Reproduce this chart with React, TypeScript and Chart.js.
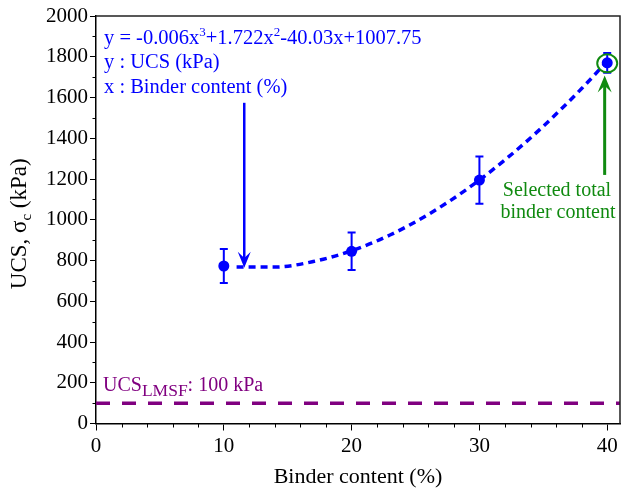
import React, { useEffect, useRef } from "react";
import { Chart, registerables } from "chart.js";

Chart.register(...registerables);

// ---- data ----
const binderContent = [10, 20, 30, 40];
const ucsMean = [773, 845, 1195, 1770];
const ucsErr = [84, 92, 116, 48];

const fitX = [11, 14, 17, 20, 23, 26, 29, 32, 35, 38, 40];
const fitY = [768, 768, 795, 848, 925, 1026, 1149, 1294, 1459, 1644, 1778];

const lmsfX = [0, 41];
const lmsfY = [100, 100];

const xTicks = [0, 10, 20, 30, 40];
const yTicks = [0, 200, 400, 600, 800, 1000, 1200, 1400, 1600, 1800, 2000];

const FONT = '"Liberation Serif", "Times New Roman", Times, serif';
const BLUE = "#0000ff";
const PURPLE = "#800080";
const GREEN = "#108a10";

function drawSegments(ctx: CanvasRenderingContext2D, x: number, y: number, segs: { t: string; size: number; dy: number }[]) {
  let cx = x;
  for (const s of segs) {
    ctx.font = `${s.size}px ${FONT}`;
    ctx.fillText(s.t, cx, y + s.dy);
    cx += ctx.measureText(s.t).width;
  }
  return cx - x;
}

function arrowHead(ctx: CanvasRenderingContext2D, tipX: number, tipY: number, dir: number, w: number, l: number) {
  ctx.beginPath();
  ctx.moveTo(tipX, tipY);
  ctx.lineTo(tipX - w / 2, tipY - dir * l);
  ctx.lineTo(tipX, tipY - dir * l * 0.6);
  ctx.lineTo(tipX + w / 2, tipY - dir * l);
  ctx.closePath();
  ctx.fill();
}

const zeroPad = () => ({ left: 0, top: 0, right: 0, bottom: 0 });

const overlay = {
  id: "overlay",
  afterDraw(chart: any) {
    const ctx: CanvasRenderingContext2D = chart.ctx;
    const xs = chart.scales.x;
    const ys = chart.scales.y;
    const ca = chart.chartArea;
    ctx.save();

    // frame top/right
    ctx.strokeStyle = "#222";
    ctx.lineWidth = 1.5;
    ctx.beginPath();
    ctx.moveTo(ca.left, ca.top);
    ctx.lineTo(ca.right, ca.top);
    ctx.lineTo(ca.right, ca.bottom);
    ctx.stroke();

    // minor ticks
    ctx.strokeStyle = "#000";
    ctx.lineWidth = 1;
    for (let v = 0; v <= 41; v += 2) {
      if (v % 10 === 0) continue;
      const px = Math.round(xs.getPixelForValue(v)) + 0.5;
      ctx.beginPath();
      ctx.moveTo(px, ca.bottom);
      ctx.lineTo(px, ca.bottom + 4);
      ctx.stroke();
    }
    for (let v = 100; v < 2000; v += 200) {
      const py = Math.round(ys.getPixelForValue(v)) + 0.5;
      ctx.beginPath();
      ctx.moveTo(ca.left, py);
      ctx.lineTo(ca.left - 3.5, py);
      ctx.stroke();
    }

    // error bars
    ctx.strokeStyle = BLUE;
    ctx.lineWidth = 2;
    for (let i = 0; i < binderContent.length; i++) {
      const px = xs.getPixelForValue(binderContent[i]);
      const pt = ys.getPixelForValue(ucsMean[i] + ucsErr[i]);
      const pb = ys.getPixelForValue(ucsMean[i] - ucsErr[i]);
      ctx.beginPath();
      ctx.moveTo(px, pt);
      ctx.lineTo(px, pb);
      ctx.moveTo(px - 4, pt);
      ctx.lineTo(px + 4, pt);
      ctx.moveTo(px - 4, pb);
      ctx.lineTo(px + 4, pb);
      ctx.stroke();
    }

    // blue arrow
    const bx = xs.getPixelForValue(11.6);
    const bTop = ys.getPixelForValue(1574);
    const bTip = ys.getPixelForValue(765);
    ctx.strokeStyle = BLUE;
    ctx.fillStyle = BLUE;
    ctx.lineWidth = 2.5;
    ctx.beginPath();
    ctx.moveTo(bx, bTop);
    ctx.lineTo(bx, bTip - 8);
    ctx.stroke();
    arrowHead(ctx, bx, bTip, 1, 13, 16);

    // green arrow
    const gx = xs.getPixelForValue(39.8);
    const gBot = ys.getPixelForValue(1220);
    const gTip = ys.getPixelForValue(1708);
    ctx.strokeStyle = GREEN;
    ctx.fillStyle = GREEN;
    ctx.lineWidth = 3;
    ctx.beginPath();
    ctx.moveTo(gx, gBot);
    ctx.lineTo(gx, gTip + 8);
    ctx.stroke();
    arrowHead(ctx, gx, gTip, -1, 14, 17);

    // green ellipse
    ctx.lineWidth = 2;
    ctx.beginPath();
    ctx.ellipse(xs.getPixelForValue(40), ys.getPixelForValue(1768), 10, 9, 0, 0, Math.PI * 2);
    ctx.stroke();

    // green text
    ctx.textAlign = "center";
    ctx.textBaseline = "alphabetic";
    ctx.font = `20px ${FONT}`;
    ctx.fillText("Selected total", 557, 196);
    ctx.fillText("binder content", 558, 218);

    // blue equation
    ctx.textAlign = "left";
    ctx.fillStyle = BLUE;
    drawSegments(ctx, 104, 44, [
      { t: "y = -0.006x", size: 20.5, dy: 0 },
      { t: "3", size: 13, dy: -8 },
      { t: "+1.722x", size: 20.5, dy: 0 },
      { t: "2", size: 13, dy: -8 },
      { t: "-40.03x+1007.75", size: 20.5, dy: 0 },
    ]);
    ctx.font = `20.5px ${FONT}`;
    ctx.fillText("y : UCS (kPa)", 104, 68);
    ctx.fillText("x : Binder content (%)", 104, 93);

    // purple label
    ctx.fillStyle = PURPLE;
    drawSegments(ctx, 103, 391, [
      { t: "UCS", size: 20, dy: 0 },
      { t: "LMSF", size: 17.5, dy: 5 },
      { t: ": 100 kPa", size: 20, dy: 0 },
    ]);

    // axis titles
    ctx.fillStyle = "#000";
    ctx.textAlign = "center";
    ctx.font = `22px ${FONT}`;
    ctx.fillText("Binder content (%)", (ca.left + ca.right) / 2, 483);

    ctx.save();
    ctx.translate(26, (ca.top + ca.bottom) / 2 + 4);
    ctx.rotate(-Math.PI / 2);
    ctx.textAlign = "left";
    const segs = [
      { t: "UCS, σ", size: 23, dy: 0 },
      { t: "c", size: 15, dy: 5 },
      { t: " (kPa)", size: 23, dy: 0 },
    ];
    let total = 0;
    for (const s of segs) {
      ctx.font = `${s.size}px ${FONT}`;
      total += ctx.measureText(s.t).width;
    }
    drawSegments(ctx, -total / 2, 0, segs);
    ctx.restore();

    ctx.restore();
  },
};

export default function App() {
  const ref = useRef<HTMLCanvasElement>(null);
  useEffect(() => {
    if (!ref.current) return;
    const chart = new Chart(ref.current, {
      type: "scatter",
      data: {
        datasets: [
          {
            data: lmsfX.map((x, i) => ({ x, y: lmsfY[i] })),
            showLine: true,
            borderColor: PURPLE,
            borderWidth: 3.5,
            borderDash: [14, 12],
            pointRadius: 0,
          },
          {
            data: fitX.map((x, i) => ({ x, y: fitY[i] })),
            showLine: true,
            borderColor: BLUE,
            borderWidth: 3.5,
            borderDash: [7, 5],
            cubicInterpolationMode: "monotone",
            pointRadius: 0,
          },
          {
            data: binderContent.map((x, i) => ({ x, y: ucsMean[i] })),
            showLine: false,
            pointRadius: 5.5,
            backgroundColor: BLUE,
            borderColor: BLUE,
            borderWidth: 0,
          },
        ],
      },
      options: {
        animation: false,
        responsive: false,
        layout: { autoPadding: false, padding: { left: 0, right: 1, top: 16, bottom: 0 } },
        plugins: { legend: { display: false }, tooltip: { enabled: false } },
        scales: {
          x: {
            type: "linear",
            min: 0,
            max: 41,
            afterBuildTicks: (s: any) => {
              s.ticks = xTicks.map((v) => ({ value: v }));
            },
            afterFit: (s: any) => {
              s.height = 68.5;
              s.paddingLeft = 0;
              s.paddingRight = 0;
              s.getPadding = zeroPad;
            },
            ticks: { font: { family: FONT, size: 21 }, color: "#000", padding: 3, maxRotation: 0, callback: (v: any) => String(v) },
            grid: { drawOnChartArea: false, tickLength: 7, color: "#000", lineWidth: 1 },
            border: { display: true, color: "#000", width: 1.5 },
          },
          y: {
            min: 0,
            max: 2000,
            afterBuildTicks: (s: any) => {
              s.ticks = yTicks.map((v) => ({ value: v }));
            },
            afterFit: (s: any) => {
              s.width = 96;
              s.paddingTop = 0;
              s.paddingBottom = 0;
              s.getPadding = zeroPad;
            },
            ticks: { font: { family: FONT, size: 21 }, color: "#000", padding: 2, callback: (v: any) => String(v) },
            grid: { drawOnChartArea: false, tickLength: 6, color: "#000", lineWidth: 1 },
            border: { display: true, color: "#000", width: 1.5 },
          },
        },
      },
      plugins: [overlay],
    } as any);
    return () => chart.destroy();
  }, []);
  return (
    <div style={{ position: "absolute", left: 0, top: 0, width: 621, height: 492, background: "#fff" }}>
      <canvas ref={ref} width={621} height={492} style={{ display: "block" }} />
    </div>
  );
}
